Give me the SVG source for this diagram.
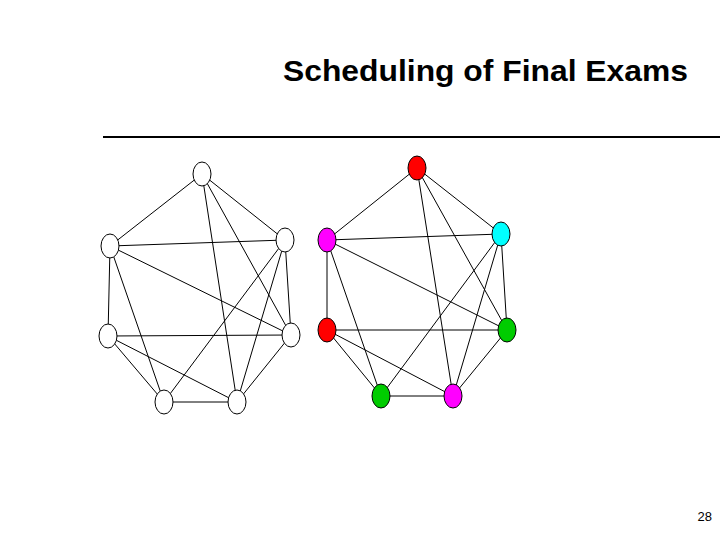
<svg xmlns="http://www.w3.org/2000/svg" width="720" height="540" viewBox="0 0 720 540">
<style>
.e line{stroke:#000;stroke-width:1}
.n{stroke:#000;stroke-width:1}
</style>
<rect width="720" height="540" fill="#fff"/>
<text x="283" y="81" textLength="405" lengthAdjust="spacingAndGlyphs" font-family="Liberation Sans, Arial, sans-serif" font-weight="bold" font-size="30">Scheduling of Final Exams</text>
<line x1="103" y1="137" x2="720" y2="137" stroke="#000" stroke-width="2"/>
<g id="connectors" class="e">
<line x1="202" y1="174" x2="110" y2="246"/><line x1="202" y1="174" x2="285" y2="240"/>
<line x1="202" y1="174" x2="237" y2="402"/><line x1="202" y1="174" x2="291" y2="335"/>
<line x1="110" y1="246" x2="285" y2="240"/><line x1="110" y1="246" x2="108" y2="336"/>
<line x1="110" y1="246" x2="291" y2="335"/><line x1="110" y1="246" x2="164" y2="402"/>
<line x1="285" y1="240" x2="291" y2="335"/><line x1="285" y1="240" x2="164" y2="402"/>
<line x1="285" y1="240" x2="237" y2="402"/><line x1="108" y1="336" x2="291" y2="335"/>
<line x1="108" y1="336" x2="164" y2="402"/><line x1="108" y1="336" x2="237" y2="402"/>
<line x1="291" y1="335" x2="237" y2="402"/><line x1="164" y1="402" x2="237" y2="402"/>

<line x1="417" y1="168" x2="327" y2="240"/><line x1="417" y1="168" x2="501" y2="234"/>
<line x1="417" y1="168" x2="453" y2="396"/><line x1="417" y1="168" x2="507" y2="330"/>
<line x1="327" y1="240" x2="501" y2="234"/><line x1="327" y1="240" x2="327" y2="330"/>
<line x1="327" y1="240" x2="507" y2="330"/><line x1="327" y1="240" x2="381" y2="396"/>
<line x1="501" y1="234" x2="507" y2="330"/><line x1="501" y1="234" x2="381" y2="396"/>
<line x1="501" y1="234" x2="453" y2="396"/><line x1="327" y1="330" x2="507" y2="330"/>
<line x1="327" y1="330" x2="381" y2="396"/><line x1="327" y1="330" x2="453" y2="396"/>
<line x1="507" y1="330" x2="453" y2="396"/><line x1="381" y1="396" x2="453" y2="396"/>
</g>
<g id="L1"><ellipse class="n" cx="202" cy="174" rx="9" ry="12" fill="#fff"/></g>
<g id="L2"><ellipse class="n" cx="110" cy="246" rx="9" ry="12" fill="#fff"/></g>
<g id="L3"><ellipse class="n" cx="285" cy="240" rx="9" ry="12" fill="#fff"/></g>
<g id="L4"><ellipse class="n" cx="108" cy="336" rx="9" ry="12" fill="#fff"/></g>
<g id="L5"><ellipse class="n" cx="291" cy="335" rx="9" ry="12" fill="#fff"/></g>
<g id="L6"><ellipse class="n" cx="164" cy="402" rx="9" ry="12" fill="#fff"/></g>
<g id="L7"><ellipse class="n" cx="237" cy="402" rx="9" ry="12" fill="#fff"/></g>
<g id="R1"><ellipse class="n" cx="417" cy="168" rx="9" ry="12" fill="#f00"/></g>
<g id="R2"><ellipse class="n" cx="327" cy="240" rx="9" ry="12" fill="#f0f"/></g>
<g id="R3"><ellipse class="n" cx="501" cy="234" rx="9" ry="12" fill="#0ff"/></g>
<g id="R4"><ellipse class="n" cx="327" cy="330" rx="9" ry="12" fill="#f00"/></g>
<g id="R5"><ellipse class="n" cx="507" cy="330" rx="9" ry="12" fill="#0c0"/></g>
<g id="R6"><ellipse class="n" cx="381" cy="396" rx="9" ry="12" fill="#0c0"/></g>
<g id="R7"><ellipse class="n" cx="453" cy="396" rx="9" ry="12" fill="#f0f"/></g>
<text x="712" y="521" text-anchor="end" font-family="Liberation Sans, Arial, sans-serif" font-size="13">28</text>
</svg>
